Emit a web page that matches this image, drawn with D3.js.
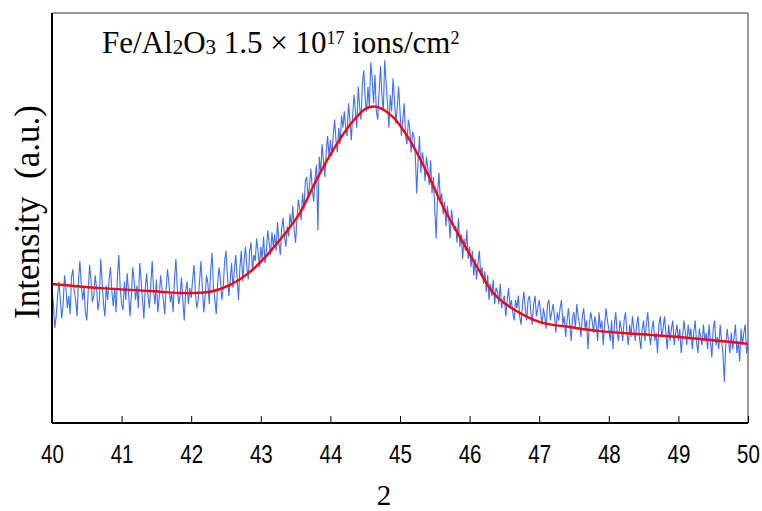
<!DOCTYPE html>
<html>
<head>
<meta charset="utf-8">
<script src="https://cdn.jsdelivr.net/npm/d3@7/dist/d3.min.js"></script>
<style>
body{margin:0;background:#fff;}
</style>
</head>
<body>
<div id="chart"></div>
<script>
var svgW=762,svgH=511;
var plotL=52,plotR=748,plotT=13,plotB=423;

// measured scan, 2theta from 40 to 50 in steps of 0.02 (a.u.)
var scanStart=40,scanStep=0.02;
var scanIntensity=[
 335,290,232,260,310,345,300,255,290,360,
 330,280,310,265,355,375,320,300,260,345,
 395,340,300,330,270,250,320,385,350,295,
 310,360,330,275,300,400,345,290,260,335,
 300,350,380,320,285,330,270,355,410,330,
 290,275,345,300,365,320,260,310,380,345,
 300,335,280,390,350,300,255,330,365,310,
 280,340,395,320,290,350,270,305,360,330,
 300,265,330,375,340,295,315,270,350,400,
 330,290,310,355,300,250,320,345,290,330,
 305,350,385,320,280,300,345,395,330,270,
 310,360,340,290,375,415,330,300,265,340,
 380,350,300,330,395,420,360,310,345,390,
 330,370,410,355,300,380,420,345,395,430,
 380,350,420,440,370,410,395,450,420,380,
 430,400,455,390,420,470,440,410,465,430,
 460,420,490,440,410,475,500,455,430,480,
 455,510,480,530,470,440,500,545,520,495,
 560,520,590,600,550,580,620,570,540,600,
 630,470,650,610,680,640,600,660,700,650,
 690,650,700,740,690,660,720,680,750,720,
 760,720,700,780,740,690,750,800,760,720,
 820,770,740,830,860,790,760,820,770,880,
 840,780,850,760,740,810,870,800,760,885,
 830,780,720,800,760,840,790,730,770,820,
 760,700,740,780,700,680,740,720,660,710,
 700,650,560,640,700,610,660,640,590,650,
 620,580,640,560,600,520,450,560,610,540,
 560,510,540,480,530,500,450,520,490,470,
 480,440,500,430,460,400,450,420,470,400,
 430,380,420,360,400,350,390,420,360,380,
 340,370,320,360,300,340,310,350,290,330,
 320,290,340,280,300,310,260,300,330,280,
 300,270,250,300,280,310,260,240,290,320,
 280,250,300,310,270,240,290,310,260,280,
 300,270,240,280,260,230,290,300,250,270,
 290,260,220,270,250,280,300,240,260,210,
 250,280,240,200,260,270,230,290,260,240,
 210,260,280,230,250,180,240,270,250,220,
 260,240,200,270,230,250,190,240,280,250,
 230,200,250,180,240,270,220,200,250,230,
 200,250,270,220,190,240,210,260,230,200,
 240,260,210,180,230,250,200,240,270,220,
 190,230,250,200,220,170,240,260,210,230,
 260,220,180,240,200,230,250,190,220,240,
 200,230,170,210,250,220,190,240,210,230,
 180,220,250,200,170,230,210,190,240,200,
 220,180,240,200,160,230,250,190,210,180,
 240,200,170,100,190,230,200,170,220,180,
 210,240,170,200,150,230,190,220,240,170,
 190
];

// fitted profile
var fitTheta=[40,40.69,41.41,41.84,42.27,42.56,42.84,43.05,43.31,43.56,43.80,44.04,44.28,44.52,44.67,44.90,45.14,45.39,45.62,45.86,46.11,46.34,46.58,47.01,47.44,47.87,48.59,49.31,50];
var fitIntensity=[339,329,322,317,320,337,368,402,454,512,593,666,727,768,771,746,690,610,527,454,380,317,283,246,234,224,215,205,193];

var xTicks=[40,41,42,43,44,45,46,47,48,49,50];

var svg=d3.select("#chart").append("svg")
    .attr("width",svgW)
    .attr("height",svgH);

var x=d3.scaleLinear().domain([40,50]).range([plotL,plotR]);
var y=d3.scaleLinear().domain([0,1000]).range([plotB,plotT]);

var scan=scanIntensity.map(function(v,i){return [scanStart+i*scanStep,v];});
var fit=fitTheta.map(function(t,i){return [t,fitIntensity[i]];});

// frame: top/right grey, left/bottom black
svg.append("line").attr("x1",plotL).attr("y1",plotT).attr("x2",plotR).attr("y2",plotT)
    .attr("stroke","#777").attr("stroke-width",1.5);
svg.append("line").attr("x1",plotR).attr("y1",plotT).attr("x2",plotR).attr("y2",plotB)
    .attr("stroke","#777").attr("stroke-width",1.5);

var line=d3.line().x(function(d){return x(d[0]);}).y(function(d){return y(d[1]);});

svg.append("path").datum(scan)
    .attr("d",line)
    .attr("fill","none")
    .attr("stroke","#3f6ff5")
    .attr("stroke-width",1.1);

svg.append("path").datum(fit)
    .attr("d",line.curve(d3.curveCatmullRom))
    .attr("fill","none")
    .attr("stroke","#ff0000")
    .attr("stroke-width",2.4);

var xAxis=svg.append("g")
    .attr("transform","translate(0,"+plotB+")")
    .call(d3.axisBottom(x).tickValues(xTicks).tickSize(-7).tickPadding(22).tickFormat(d3.format("d")));
xAxis.select(".domain").remove();
xAxis.selectAll(".tick line").attr("stroke","#000").attr("stroke-width",1);
xAxis.selectAll(".tick text")
    .style("font-family","'Liberation Sans',Arial,sans-serif")
    .style("font-size","25px")
    .attr("transform","scale(0.82,1)")
    .attr("fill","#000");

svg.append("line").attr("x1",plotL).attr("y1",plotB).attr("x2",plotR).attr("y2",plotB)
    .attr("stroke","#000").attr("stroke-width",2);
svg.append("line").attr("x1",plotL).attr("y1",plotT).attr("x2",plotL).attr("y2",plotB)
    .attr("stroke","#000").attr("stroke-width",2);

// title with small sub/superscripts
var title=svg.append("text")
    .attr("x",102).attr("y",53)
    .style("font-family","'Liberation Serif','DejaVu Serif',serif")
    .style("font-size","31px");
title.append("tspan").text("Fe/Al");
title.append("tspan").style("font-size","21px").attr("dy",1).text("2");
title.append("tspan").attr("dy",-1).text("O");
title.append("tspan").style("font-size","21px").attr("dy",1).text("3");
title.append("tspan").attr("dy",-1).text(" 1.5 × 10");
title.append("tspan").style("font-size","18px").attr("dy",-9).text("17");
title.append("tspan").attr("dy",9).text(" ions/cm");
title.append("tspan").style("font-size","18px").attr("dy",-9).text("2");

svg.append("text")
    .attr("transform","translate(39,212) rotate(-90)")
    .attr("text-anchor","middle")
    .style("font-family","'Liberation Serif','DejaVu Serif',serif")
    .style("font-size","35px")
    .attr("xml:space","preserve")
    .text("Intensity  (a.u.)");

svg.append("text")
    .attr("x",384).attr("y",505)
    .attr("text-anchor","middle")
    .style("font-family","'Liberation Serif','DejaVu Serif',serif")
    .style("font-size","29px")
    .text("2");
</script>
</body>
</html>
